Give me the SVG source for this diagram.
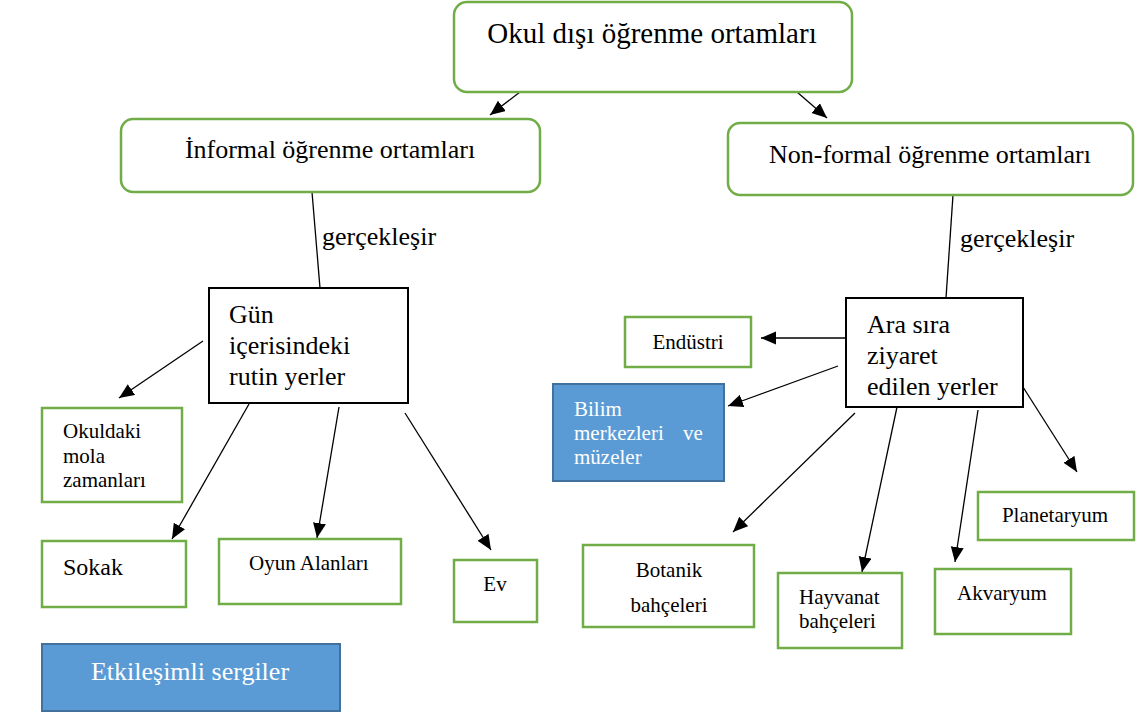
<svg xmlns="http://www.w3.org/2000/svg" width="1137" height="715" viewBox="0 0 1137 715">
<style>
text{font-family:"Liberation Serif","Times New Roman",serif;fill:#000}
.g{fill:#fff;stroke:#70ad47;stroke-width:2.5}
.k{fill:#fff;stroke:#000;stroke-width:2}
.b{fill:#5b9bd5;stroke:#41719c;stroke-width:2}
.w{fill:#fff}
.c{stroke:#000;stroke-width:1.3;fill:none}
.a{marker-end:url(#ah)}
.t26{font-size:26px}
.t29{font-size:29px}
.t21{font-size:21px}
.t24{font-size:24px}
.m{text-anchor:middle}
</style>
<defs>
<marker id="ah" markerUnits="userSpaceOnUse" markerWidth="16" markerHeight="14" refX="15" refY="6.5" orient="auto">
<path d="M0,0 L15,6.5 L0,13 z" fill="#000"/>
</marker>
</defs>
<rect width="1137" height="715" fill="#fff"/>

<g id="connectors">
<line class="c a" x1="520" y1="92" x2="490" y2="115"/>
<line class="c a" x1="797" y1="92" x2="827" y2="118"/>
<line class="c" x1="312" y1="192" x2="320" y2="288"/>
<line class="c" x1="953" y1="195" x2="946" y2="298"/>
<line class="c a" x1="203" y1="341" x2="119" y2="398"/>
<line class="c a" x1="249" y1="404" x2="172" y2="539"/>
<line class="c a" x1="339" y1="407" x2="317" y2="538"/>
<line class="c a" x1="405" y1="413" x2="491" y2="550"/>
<line class="c a" x1="846" y1="338" x2="761" y2="338"/>
<line class="c a" x1="838" y1="366" x2="728" y2="406"/>
<line class="c a" x1="855" y1="413" x2="733" y2="532"/>
<line class="c a" x1="897" y1="407" x2="862" y2="572"/>
<line class="c a" x1="978" y1="410" x2="955" y2="562"/>
<line class="c a" x1="1023" y1="387" x2="1077" y2="472"/>
<text class="t26" x="322" y="245">gerçekleşir</text>
<text class="t26" x="960" y="247">gerçekleşir</text>
</g>

<g id="n-okul">
<rect class="g" x="454" y="2" width="398" height="90" rx="13"/>
<text class="t29 m" x="652" y="43">Okul dışı öğrenme ortamları</text>
</g>
<g id="n-informal">
<rect class="g" x="121" y="119" width="419" height="73" rx="12"/>
<text class="t26 m" x="330" y="158">İnformal öğrenme ortamları</text>
</g>
<g id="n-nonformal">
<rect class="g" x="728" y="123" width="405" height="72" rx="12"/>
<text class="t26 m" x="930" y="163">Non-formal öğrenme ortamları</text>
</g>
<g id="n-gun">
<rect class="k" x="209" y="288" width="199" height="115"/>
<text class="t26" x="229" y="323">Gün</text>
<text class="t26" x="229" y="354">içerisindeki</text>
<text class="t26" x="229" y="385">rutin yerler</text>
</g>
<g id="n-ara">
<rect class="k" x="846" y="298" width="177" height="109"/>
<text class="t26" x="867" y="333">Ara sıra</text>
<text class="t26" x="867" y="364">ziyaret</text>
<text class="t26" x="867" y="395">edilen yerler</text>
</g>
<g id="n-okuldaki">
<rect class="g" x="42" y="408" width="140" height="94"/>
<text class="t21" x="63" y="438">Okuldaki</text>
<text class="t21" x="63" y="463">mola</text>
<text class="t21" x="63" y="487">zamanları</text>
</g>
<g id="n-sokak">
<rect class="g" x="42" y="541" width="144" height="66"/>
<text class="t24" x="63" y="575">Sokak</text>
</g>
<g id="n-oyun">
<rect class="g" x="219" y="539" width="182" height="65"/>
<text class="t21" x="249" y="570">Oyun Alanları</text>
</g>
<g id="n-ev">
<rect class="g" x="454" y="560" width="83" height="62"/>
<text class="t21 m" x="495" y="591">Ev</text>
</g>
<g id="n-etkilesimli">
<rect class="b" x="42" y="644" width="298" height="67"/>
<text class="t26 m w" x="190" y="680">Etkileşimli sergiler</text>
</g>
<g id="n-endustri">
<rect class="g" x="625" y="317" width="126" height="50"/>
<text class="t21 m" x="688" y="349">Endüstri</text>
</g>
<g id="n-bilim">
<rect class="b" x="553" y="384" width="171" height="97"/>
<text class="t21 w" x="574" y="416">Bilim</text>
<text class="t21 w" x="574" y="440">merkezleri<tspan x="683">ve</tspan></text>
<text class="t21 w" x="574" y="464">müzeler</text>
</g>
<g id="n-botanik">
<rect class="g" x="583" y="545" width="171" height="82"/>
<text class="t21 m" x="669" y="577">Botanik</text>
<text class="t21 m" x="669" y="612">bahçeleri</text>
</g>
<g id="n-hayvanat">
<rect class="g" x="778" y="573" width="124" height="75"/>
<text class="t21" x="799" y="604">Hayvanat</text>
<text class="t21" x="799" y="628">bahçeleri</text>
</g>
<g id="n-akvaryum">
<rect class="g" x="935" y="569" width="136" height="65"/>
<text class="t21 m" x="1002" y="600">Akvaryum</text>
</g>
<g id="n-planetaryum">
<rect class="g" x="978" y="492" width="156" height="48"/>
<text class="t21 m" x="1055" y="522">Planetaryum</text>
</g>
</svg>
